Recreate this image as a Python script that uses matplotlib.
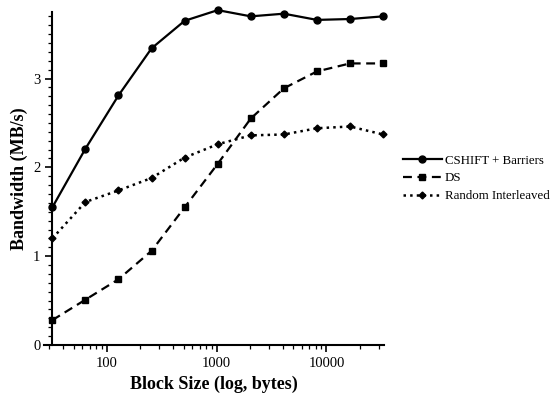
import matplotlib
matplotlib.use('Agg')
import matplotlib.pyplot as plt
from matplotlib.ticker import MultipleLocator, LogLocator, FixedLocator

plt.rcParams['font.family'] = ['Liberation Serif', 'DejaVu Serif']

# block sizes (bytes) and measured bandwidths (MB/s)
block_size = [32, 64, 128, 256, 512, 1024, 2048, 4096, 8192, 16384, 32768]
cshift_barriers = [1.55, 2.21, 2.81, 3.34, 3.65, 3.77, 3.70, 3.73, 3.66, 3.67, 3.70]
ds = [0.28, 0.51, 0.74, 1.06, 1.55, 2.04, 2.55, 2.89, 3.08, 3.17, 3.17]
random_interleaved = [1.20, 1.61, 1.74, 1.88, 2.11, 2.26, 2.36, 2.37, 2.44, 2.46, 2.37]

fig = plt.figure(figsize=(5.6, 3.97), dpi=100)
ax = fig.add_axes([0.079, 0.131, 0.607, 0.839])

ax.plot(block_size, cshift_barriers, '-', color='black', lw=1.6,
        marker='o', ms=5, clip_on=False, label='CSHIFT + Barriers')
ax.plot(block_size, ds, '--', color='black', lw=1.6, dashes=(4, 2.5),
        marker='s', ms=5, clip_on=False, label='DS')
ax.plot(block_size, random_interleaved, ':', color='black', lw=1.8,
        marker='D', ms=3.5, clip_on=False, label='Random Interleaved')

ax.set_xscale('log')
ax.set_xlim(27, 33500)
ax.set_ylim(0, 3.75)
# y axis sits at the first block size, x axis sticks out a bit to the left
ax.spines['left'].set_position(('data', 32))

ax.xaxis.set_major_locator(FixedLocator([100, 1000, 10000]))
ax.xaxis.set_minor_locator(LogLocator(base=10, subs=range(2, 10)))
ax.set_xticklabels(['100', '1000', '10000'])
ax.yaxis.set_major_locator(FixedLocator([0, 1, 2, 3]))
ax.yaxis.set_minor_locator(MultipleLocator(0.1))

ax.spines['top'].set_visible(False)
ax.spines['right'].set_visible(False)
ax.spines['left'].set_linewidth(1.5)
ax.spines['bottom'].set_linewidth(1.5)
ax.tick_params(which='major', direction='out', length=5, width=1.2, labelsize=10.5)
ax.tick_params(which='minor', direction='out', length=3, width=0.9)

ax.set_xlabel('Block Size (log, bytes)', fontsize=13, fontweight='bold')
ax.set_ylabel('Bandwidth (MB/s)', fontsize=13, fontweight='bold')

leg = ax.legend(loc='center left', bbox_to_anchor=(1.055, 0.50), frameon=False,
                fontsize=9.3, handlelength=3.0, handletextpad=0.25,
                labelspacing=0.45, borderpad=0, borderaxespad=0)

fig.savefig('out.png', dpi=100)
